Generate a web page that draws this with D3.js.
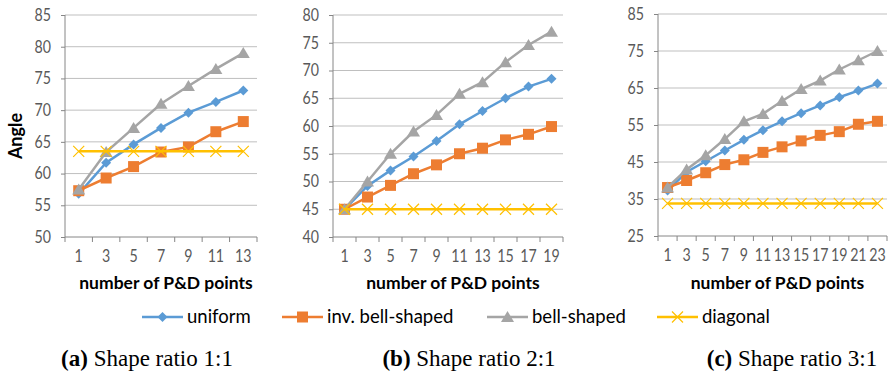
<!DOCTYPE html>
<html>
<head>
<meta charset="utf-8">
<script src="https://cdn.jsdelivr.net/npm/d3@7"></script>
<style>
  body { margin: 0; background: #fff; }
  svg { display: block; }
</style>
</head>
<body>
<svg id="svg_main" width="890" height="375"></svg>
<script>
// series names + colours
var seriesNames = ['uniform', 'inv. bell-shaped', 'bell-shaped', 'diagonal']
var seriesColors = ['#5B9BD5', '#ED7D31', '#A5A5A5', '#FFC000']
var seriesShapes = ['diamond', 'square', 'triangle', 'cross']

// (a) shape ratio 1:1
var catsA = [1, 3, 5, 7, 9, 11, 13]
var uniformA = [56.8, 61.7, 64.6, 67.2, 69.6, 71.3, 73.1]
var invBellA = [57.3, 59.3, 61.1, 63.4, 64.2, 66.6, 68.2]
var bellA = [57.5, 63.4, 67.2, 71.0, 73.8, 76.5, 79.0]
var diagonalA = [63.5, 63.5, 63.5, 63.5, 63.5, 63.5, 63.5]
var ticksA = [50, 55, 60, 65, 70, 75, 80, 85]

// (b) shape ratio 2:1
var catsB = [1, 3, 5, 7, 9, 11, 13, 15, 17, 19]
var uniformB = [45, 49.2, 52.0, 54.5, 57.3, 60.3, 62.7, 65.0, 67.1, 68.5]
var invBellB = [45, 47.2, 49.3, 51.4, 53.0, 55.0, 56.0, 57.5, 58.5, 59.9]
var bellB = [45, 50.0, 55.0, 59.0, 62.0, 65.8, 67.9, 71.5, 74.6, 77.0]
var diagonalB = [45, 45, 45, 45, 45, 45, 45, 45, 45, 45]
var ticksB = [40, 45, 50, 55, 60, 65, 70, 75, 80]

// (c) shape ratio 3:1
var catsC = [1, 3, 5, 7, 9, 11, 13, 15, 17, 19, 21, 23]
var uniformC = [37.3, 42.3, 45.2, 48.1, 51.0, 53.6, 56.0, 58.2, 60.3, 62.5, 64.3, 66.2]
var invBellC = [38.1, 40.0, 42.1, 44.3, 45.6, 47.6, 49.1, 50.7, 52.2, 53.2, 55.2, 56.0]
var bellC = [38.1, 43.0, 46.8, 51.2, 56.0, 58.0, 61.5, 64.7, 67.0, 70.0, 72.5, 75.0]
var diagonalC = [33.8, 33.8, 33.8, 33.8, 33.8, 33.8, 33.8, 33.8, 33.8, 33.8, 33.8, 33.8]
var ticksC = [25, 35, 45, 55, 65, 75, 85]

var captions = [['(a)', 'Shape ratio 1:1'], ['(b)', 'Shape ratio 2:1'], ['(c)', 'Shape ratio 3:1']]

var panels = [
  { cats: catsA, series: [uniformA, invBellA, bellA, diagonalA], ticks: ticksA,
    left: 65, right: 257, top: 15, bottom: 237, yLabel: 'Angle' },
  { cats: catsB, series: [uniformB, invBellB, bellB, diagonalB], ticks: ticksB,
    left: 333, right: 563, top: 15, bottom: 237, yLabel: null },
  { cats: catsC, series: [uniformC, invBellC, bellC, diagonalC], ticks: ticksC,
    left: 658, right: 887, top: 14, bottom: 236, yLabel: null }
]

var svg = d3.select('#svg_main')
var font = 'Lato, "Open Sans", sans-serif'
var squeeze = 0.86   // narrow the tick labels a bit, Calibri-ish

function markerPath(shape) {
  if (shape == 'diamond') return 'M0,-5L5,0L0,5L-5,0Z'
  if (shape == 'square') return 'M-5.5,-5.5H5.5V5.5H-5.5Z'
  if (shape == 'triangle') return 'M0,-6L6.5,5H-6.5Z'
  return 'M-5.5,-5.5L5.5,5.5M-5.5,5.5L5.5,-5.5'
}

function drawMarker(g, shape, color) {
  var p = g.append('path').attr('d', markerPath(shape))
  if (shape == 'cross') p.attr('fill', 'none').attr('stroke', color).attr('stroke-width', 1.2)
  else p.attr('fill', color)
}

panels.forEach(function (pn, pi) {
  var x = d3.scaleBand().domain(pn.cats).range([pn.left, pn.right]).padding(0)
  var y = d3.scaleLinear().domain([pn.ticks[0], pn.ticks[pn.ticks.length - 1]]).range([pn.bottom, pn.top])
  var g = svg.append('g')

  // gridlines + y axis
  var yAxis = g.append('g')
    .attr('transform', 'translate(' + pn.left + ',0)')
    .call(d3.axisLeft(y).tickValues(pn.ticks).tickSize(4).tickSizeOuter(0))
  yAxis.select('.domain').remove()
  yAxis.selectAll('.tick line').attr('stroke', '#868686')
  yAxis.selectAll('.tick text').attr('fill', '#595959').style('font-family', font).style('font-size', '16.5px')
    .attr('x', -14 / squeeze).attr('transform', 'scale(' + squeeze + ',1)')
  g.append('g').selectAll('line').data(pn.ticks.slice(1)).enter().append('line')
    .attr('x1', pn.left).attr('x2', pn.right)
    .attr('y1', function (d) { return y(d) }).attr('y2', function (d) { return y(d) })
    .attr('stroke', '#BFBFBF').attr('stroke-width', 1)

  // x axis
  var xAxis = g.append('g')
    .attr('transform', 'translate(0,' + pn.bottom + ')')
    .call(d3.axisBottom(x).tickSize(0).tickPadding(13))
  xAxis.select('.domain').remove()
  xAxis.selectAll('.tick text').attr('fill', '#595959').style('font-family', font).style('font-size', '16.5px')
    .attr('transform', 'scale(' + squeeze + ',1)')
  var bounds = pn.cats.map(function (c) { return x(c) }).concat([pn.right])
  g.append('g').selectAll('line').data(bounds).enter().append('line')
    .attr('x1', function (d) { return d }).attr('x2', function (d) { return d })
    .attr('y1', pn.bottom).attr('y2', pn.bottom + 5)
    .attr('stroke', '#868686')
  g.append('line').attr('x1', pn.left).attr('x2', pn.right).attr('y1', pn.bottom).attr('y2', pn.bottom)
    .attr('stroke', '#868686')
  g.append('line').attr('x1', pn.left).attr('x2', pn.left).attr('y1', pn.top).attr('y2', pn.bottom)
    .attr('stroke', '#868686')

  // series
  var line = d3.line()
    .x(function (d, i) { return x(pn.cats[i]) + x.bandwidth() / 2 })
    .y(function (d) { return y(d) })
  pn.series.forEach(function (vals, si) {
    g.append('path').datum(vals).attr('d', line)
      .attr('fill', 'none').attr('stroke', seriesColors[si]).attr('stroke-width', 2.5)
    vals.forEach(function (v, i) {
      var m = g.append('g').attr('transform', 'translate(' + (x(pn.cats[i]) + x.bandwidth() / 2) + ',' + y(v) + ')')
      drawMarker(m, seriesShapes[si], seriesColors[si])
    })
  })

  // axis titles
  g.append('text').attr('x', (pn.left + pn.right) / 2 + 5).attr('y', 289)
    .attr('text-anchor', 'middle').style('font-family', font).style('font-weight', 'bold')
    .style('font-size', '17.5px').attr('fill', '#000').text('number of P&D points')
  if (pn.yLabel) {
    g.append('text').attr('transform', 'translate(22,' + 136 + ') rotate(-90)')
      .attr('text-anchor', 'middle').style('font-family', font).style('font-weight', 'bold')
      .style('font-size', '18px').text(pn.yLabel)
  }

  // caption
  var cx = [147, 469, 792][pi]
  var t = svg.append('text').attr('x', cx).attr('y', 366).attr('text-anchor', 'middle')
    .style('font-family', '"Liberation Serif", "Times New Roman", serif').style('font-size', '23px')
  t.append('tspan').style('font-weight', 'bold').text(captions[pi][0])
  t.append('tspan').text(' ' + captions[pi][1])
})

// legend
var legendX = [142, 282, 487, 657]
var leg = svg.append('g')
seriesNames.forEach(function (name, i) {
  var lg = leg.append('g').attr('transform', 'translate(' + legendX[i] + ',317)')
  lg.append('line').attr('x1', 0).attr('x2', 41).attr('stroke', seriesColors[i]).attr('stroke-width', 2.5)
  var m = lg.append('g').attr('transform', 'translate(20.5,0)')
  drawMarker(m, seriesShapes[i], seriesColors[i])
  lg.append('text').attr('x', 45).attr('y', 6).style('font-family', font).style('font-size', '18.5px')
    .attr('fill', '#000').text(name)
})
</script>
</body>
</html>
